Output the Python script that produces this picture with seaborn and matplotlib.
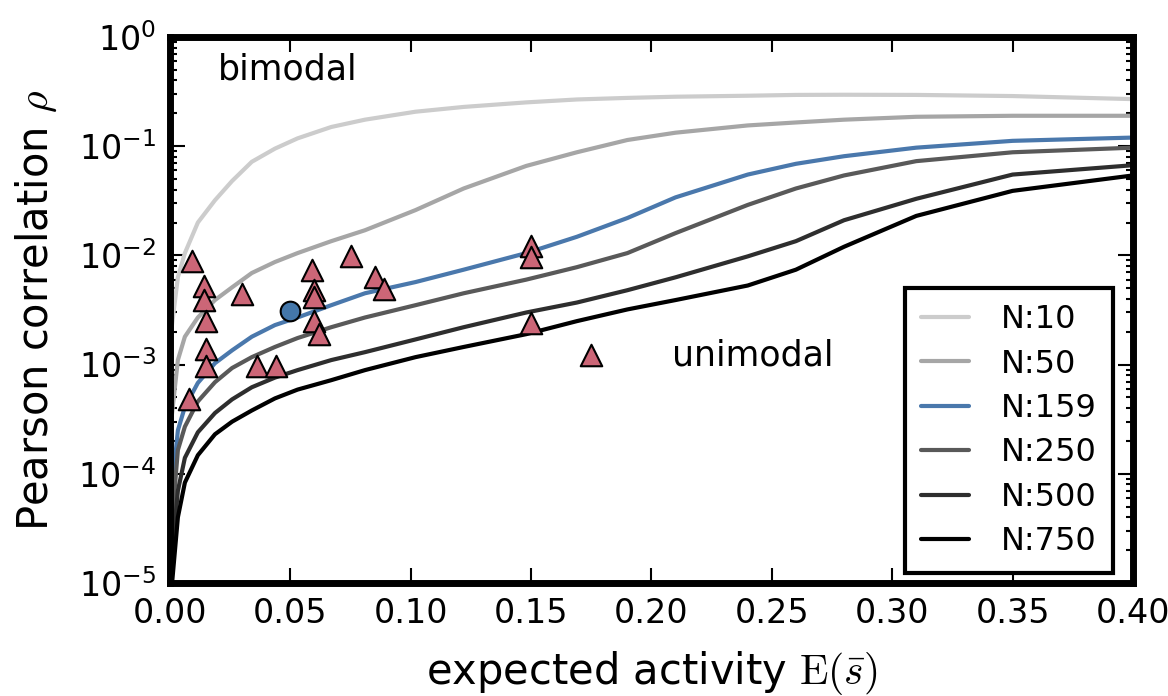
import matplotlib
matplotlib.use("Agg")
import matplotlib.pyplot as plt
import pandas as pd
import seaborn as sns
from matplotlib.ticker import LogLocator, NullFormatter

# expected activity grid shared by all curves
activity = [0.0005, 0.0033, 0.0062, 0.0116, 0.0187, 0.0258, 0.034, 0.0436, 0.053,
            0.067, 0.081, 0.102, 0.122, 0.148, 0.169, 0.19, 0.21, 0.24, 0.26,
            0.28, 0.31, 0.35, 0.40]

rho_n10 = [0.002, 0.0063, 0.0105, 0.02, 0.032, 0.048, 0.072, 0.095, 0.118,
           0.15, 0.175, 0.207, 0.229, 0.252, 0.268, 0.277, 0.284, 0.29, 0.295,
           0.296, 0.295, 0.288, 0.27]
rho_n50 = [0.0003, 0.0011, 0.0018, 0.0027, 0.0039, 0.0051, 0.0069, 0.0087, 0.0105,
           0.0135, 0.017, 0.026, 0.041, 0.066, 0.088, 0.114, 0.133, 0.155, 0.165,
           0.175, 0.186, 0.19, 0.19]
rho_n159 = [6e-5, 0.00025, 0.00041, 0.00068, 0.00103, 0.00135, 0.0018, 0.0023, 0.0027,
            0.0035, 0.0045, 0.0057, 0.0074, 0.0105, 0.0148, 0.022, 0.034, 0.055, 0.069,
            0.081, 0.097, 0.112, 0.12]
rho_n250 = [3e-5, 0.000165, 0.00027, 0.00046, 0.00069, 0.00093, 0.00117, 0.00145, 0.00175,
            0.0022, 0.0027, 0.0035, 0.0045, 0.006, 0.0078, 0.0105, 0.016, 0.029, 0.041,
            0.054, 0.073, 0.088, 0.097]
rho_n500 = [1.5e-5, 7e-5, 0.00014, 0.00024, 0.00036, 0.00048, 0.00062, 0.00076, 0.00089,
            0.0011, 0.0013, 0.0017, 0.0022, 0.003, 0.0037, 0.0048, 0.0063, 0.0098, 0.0135,
            0.021, 0.033, 0.055, 0.067]
rho_n750 = [8e-6, 4e-5, 8.3e-5, 0.000148, 0.00023, 0.0003, 0.00038, 0.00049, 0.00059,
            0.00072, 0.00089, 0.00117, 0.00145, 0.0019, 0.0025, 0.0032, 0.0039, 0.0053, 0.0074,
            0.012, 0.023, 0.039, 0.054]

network_labels = ["N:10", "N:50", "N:159", "N:250", "N:500", "N:750"]
line_colors = ["#cccccc", "#a6a6a6", "#4a78ac", "#595959", "#2e2e2e", "#000000"]

# measured recordings
tri_activity = [0.009, 0.014, 0.014, 0.015, 0.015, 0.015, 0.008, 0.03, 0.036, 0.044,
                0.059, 0.06, 0.06, 0.06, 0.062, 0.075, 0.085, 0.089, 0.15, 0.15,
                0.15, 0.175]
tri_rho = [0.0088, 0.0053, 0.0039, 0.0025, 0.0014, 0.00097, 0.00048, 0.0044, 0.00097, 0.00097,
           0.0073, 0.0048, 0.0042, 0.0025, 0.0019, 0.0098, 0.0063, 0.0049, 0.0123, 0.0097,
           0.0024, 0.00123]
circ_activity = [0.05]
circ_rho = [0.0031]

curves = pd.DataFrame({"activity": activity})
for lab, vals in zip(network_labels,
                     [rho_n10, rho_n50, rho_n159, rho_n250, rho_n500, rho_n750]):
    curves[lab] = vals
curves = curves.melt(id_vars="activity", var_name="N", value_name="rho")

sns.set_style("ticks")
plt.rcParams["font.family"] = ["DejaVu Sans"]
plt.rcParams["mathtext.fontset"] = "cm"
plt.rcParams["text.color"] = "black"
plt.rcParams["axes.labelcolor"] = "black"

fig, ax = plt.subplots(figsize=(11.68, 6.96), dpi=100)
fig.subplots_adjust(left=0.1455, right=0.970, top=0.9468, bottom=0.1624)

sns.lineplot(data=curves, x="activity", y="rho", hue="N", hue_order=network_labels,
             palette=dict(zip(network_labels, line_colors)), estimator=None,
             sort=False, linewidth=3, ax=ax)
sns.scatterplot(x=tri_activity, y=tri_rho, marker="^", s=240, color="#cc6677",
                edgecolor="black", linewidth=1.5, legend=False, ax=ax, zorder=4)
sns.scatterplot(x=circ_activity, y=circ_rho, marker="o", s=200, color="#4477aa",
                edgecolor="black", linewidth=1.5, legend=False, ax=ax, zorder=4)

ax.set_yscale("log")
ax.set_xlim(0, 0.40)
ax.set_ylim(1e-5, 1)
ax.set_xticks([0.0, 0.05, 0.10, 0.15, 0.20, 0.25, 0.30, 0.35, 0.40])
ax.set_xticklabels(["0.00", "0.05", "0.10", "0.15", "0.20", "0.25", "0.30", "0.35", "0.40"])
ax.yaxis.set_major_locator(LogLocator(base=10, numticks=10))
ax.yaxis.set_minor_locator(LogLocator(base=10, subs=range(2, 10), numticks=100))
ax.yaxis.set_minor_formatter(NullFormatter())

ax.tick_params(which="both", direction="in", top=True, right=True, labelsize=24,
               colors="black", pad=10)
ax.tick_params(which="major", length=11, width=1.5)
ax.tick_params(which="minor", length=5, width=1.5)
for sp in ax.spines.values():
    sp.set_linewidth(5)
    sp.set_color("black")

ax.set_xlabel(r"expected activity $\mathrm{E}(\bar{s})$", fontsize=30, labelpad=14)
ax.set_ylabel(r"Pearson correlation $\rho$", fontsize=30, labelpad=14)

ax.text(0.02, 0.5, "bimodal", fontsize=25, va="center", ha="left")
ax.text(0.2085, 0.0012, "unimodal", fontsize=25, va="center", ha="left")

handles, labels = ax.get_legend_handles_labels()
leg = ax.legend(handles, labels, loc="lower right", bbox_to_anchor=(0.979, 0.018),
                fontsize=23, frameon=True, fancybox=False, edgecolor="black",
                framealpha=1, handlelength=1.5, handletextpad=1.0, labelspacing=0.42,
                borderaxespad=0.0, borderpad=0.5)
leg.get_frame().set_linewidth(3)

fig.savefig("out.png", dpi=100)
